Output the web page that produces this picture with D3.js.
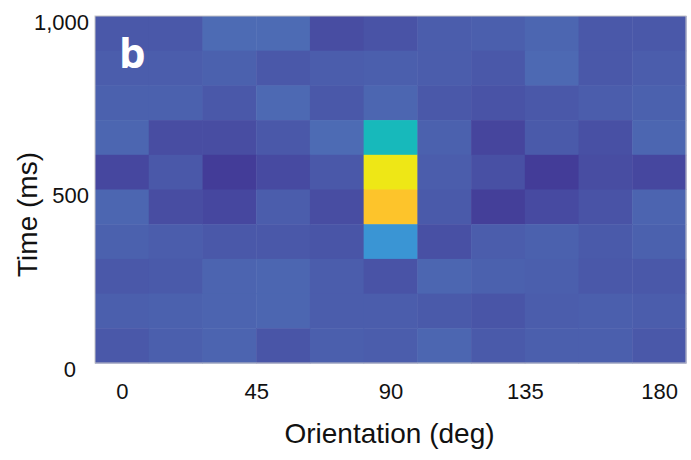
<!DOCTYPE html>
<html>
<head>
<meta charset="utf-8">
<script src="https://cdn.jsdelivr.net/npm/d3@7"></script>
<style>
  html, body { margin: 0; padding: 0; background: #fff; }
  svg { display: block; }
</style>
</head>
<body>
<svg id="chart" width="691" height="460"></svg>
<script>
// Orientation bin centres (deg)
const orientations = [0, 18, 36, 54, 72, 90, 108, 126, 144, 162, 180];
// Time bin starts (ms), listed top row first
const timeBins = [900, 800, 700, 600, 500, 400, 300, 200, 100, 0];
// Normalised response per time bin (rows, same order as timeBins) x orientation
const responses = [
  [0.12, 0.12, 0.20, 0.20, 0.08, 0.10, 0.14, 0.15, 0.18, 0.12, 0.12],
  [0.14, 0.14, 0.16, 0.12, 0.14, 0.15, 0.14, 0.12, 0.19, 0.12, 0.14],
  [0.16, 0.16, 0.12, 0.19, 0.12, 0.18, 0.12, 0.10, 0.12, 0.14, 0.16],
  [0.18, 0.08, 0.08, 0.12, 0.20, 0.55, 0.16, 0.05, 0.13, 0.09, 0.18],
  [0.06, 0.12, 0.02, 0.07, 0.12, 1.00, 0.14, 0.09, 0.02, 0.08, 0.06],
  [0.18, 0.08, 0.06, 0.14, 0.08, 0.85, 0.13, 0.03, 0.07, 0.10, 0.17],
  [0.16, 0.14, 0.12, 0.12, 0.11, 0.40, 0.09, 0.14, 0.16, 0.13, 0.16],
  [0.12, 0.13, 0.17, 0.18, 0.14, 0.10, 0.18, 0.16, 0.15, 0.12, 0.12],
  [0.15, 0.16, 0.17, 0.18, 0.14, 0.14, 0.13, 0.11, 0.14, 0.15, 0.14],
  [0.12, 0.15, 0.17, 0.11, 0.15, 0.14, 0.18, 0.13, 0.15, 0.15, 0.12]
];
const xTicks = [0, 45, 90, 135, 180];
const yTicks = [0, 500, 1000];
const panelLabel = "b";
const xTitle = "Orientation (deg)";
const yTitle = "Time (ms)";

const binHalfWidth = 9;   // deg
const binHeight = 100;    // ms

const svg = d3.select("#chart");
const mLeft = 95, mRight = 686, mTop = 16, mBottom = 363;

const x = d3.scaleLinear().domain([-binHalfWidth, 180 + binHalfWidth]).range([mLeft, mRight]);
const y = d3.scaleLinear().domain([0, 1000]).range([mBottom, mTop]);

const color = d3.scaleLinear()
  .domain([0, 0.1, 0.2, 0.4, 0.55, 0.85, 1.0])
  .range(["#423694", "#4953a6", "#4d6bb4", "#3a95d4", "#17b9bb", "#fdc42b", "#eee716"])
  .clamp(true);

const cells = [];
timeBins.forEach((t, ri) => {
  orientations.forEach((o, ci) => {
    cells.push({ t, o, v: responses[ri][ci] });
  });
});

svg.append("g")
  .selectAll("rect")
  .data(cells)
  .join("rect")
  .attr("x", d => x(d.o - binHalfWidth))
  .attr("y", d => y(d.t + binHeight))
  .attr("width", d => x(d.o + binHalfWidth) - x(d.o - binHalfWidth) + 0.5)
  .attr("height", d => y(d.t) - y(d.t + binHeight) + 0.5)
  .attr("fill", d => color(d.v));

// frame
svg.append("rect")
  .attr("x", mLeft).attr("y", mTop)
  .attr("width", mRight - mLeft).attr("height", mBottom - mTop)
  .attr("fill", "none").attr("stroke", "#c4c4c8").attr("stroke-width", 1);

// x axis
const xAxis = svg.append("g")
  .attr("transform", `translate(0,${mBottom})`)
  .call(d3.axisBottom(x).tickValues(xTicks).tickSize(0).tickPadding(20));
xAxis.select(".domain").remove();
xAxis.selectAll("text")
  .attr("font-family", "'Liberation Sans', Arial, sans-serif")
  .attr("font-size", 22).attr("fill", "#111");

// y axis
const yAxis = svg.append("g")
  .attr("transform", `translate(${mLeft},0)`)
  .call(d3.axisLeft(y).tickValues(yTicks).tickFormat(d3.format(",")).tickSize(0).tickPadding(6));
yAxis.select(".domain").remove();
yAxis.selectAll("text")
  .attr("font-family", "'Liberation Sans', Arial, sans-serif")
  .attr("font-size", 22).attr("fill", "#111")
  .attr("transform", d => `translate(${d === 0 ? -13 : 0},6)`);

// axis titles
svg.append("text")
  .attr("x", (mLeft + mRight) / 2 - 1).attr("y", 443)
  .attr("text-anchor", "middle")
  .attr("font-family", "'Liberation Sans', Arial, sans-serif")
  .attr("font-size", 28).attr("fill", "#111")
  .text(xTitle);

svg.append("text")
  .attr("transform", `translate(37,${(mTop + mBottom) / 2 + 25}) rotate(-90)`)
  .attr("text-anchor", "middle")
  .attr("font-family", "'Liberation Sans', Arial, sans-serif")
  .attr("font-size", 28).attr("fill", "#111")
  .text(yTitle);

// panel label
svg.append("text")
  .attr("x", 119).attr("y", 68)
  .attr("font-family", "'Open Sans', sans-serif")
  .attr("font-weight", "bold")
  .attr("font-size", 42).attr("fill", "#fff")
  .text(panelLabel);
</script>
</body>
</html>
